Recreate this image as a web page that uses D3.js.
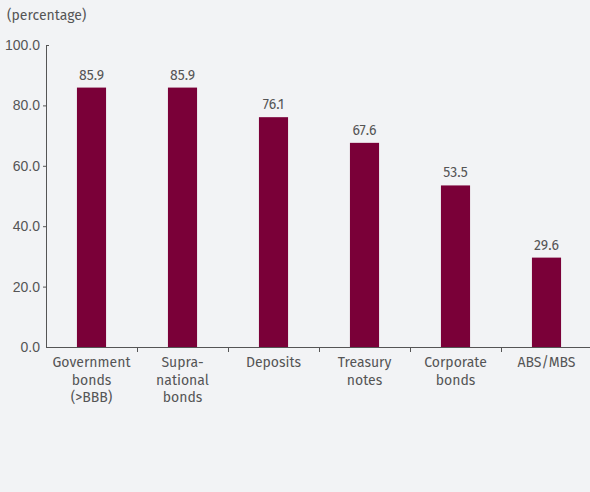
<!DOCTYPE html>
<html>
<head>
<meta charset="utf-8">
<script src="https://cdn.jsdelivr.net/npm/d3@7"></script>
<style>
  body { margin: 0; background: #f2f3f5; }
  svg { display: block; font-family: "Fira Sans", Roboto, "Noto Sans", sans-serif; }
</style>
</head>
<body>
<div id="chart"></div>
<script>
const categories = [
    ["Government", "bonds", "(>BBB)"],
    ["Supra-", "national", "bonds"],
    ["Deposits"],
    ["Treasury", "notes"],
    ["Corporate", "bonds"],
    ["ABS/MBS"]
];
const values = [85.9, 85.9, 76.1, 67.6, 53.5, 29.6];
const yTicks = [0, 20, 40, 60, 80, 100];

const svgWidth = 590;
const svgHeight = 492;
const margin = { top: 45, right: -2, bottom: 145, left: 46 };
const width = svgWidth - margin.left - margin.right;
const height = svgHeight - margin.top - margin.bottom;

const barColor = "#7a0038";
const textColor = "#555555";
const axisColor = "#555555";

const svg = d3.select("#chart")
    .append("svg")
    .attr("width", svgWidth)
    .attr("height", svgHeight);

svg.append("text")
    .attr("x", 7)
    .attr("y", 20)
    .attr("fill", textColor)
    .attr("font-size", "14px")
    .text("(percentage)");

const g = svg.append("g")
    .attr("transform", `translate(${margin.left},${margin.top})`);

const xScale = d3.scaleBand()
    .domain(d3.range(categories.length))
    .range([0, width]);

const yScale = d3.scaleLinear()
    .domain([0, 100])
    .range([height, 0]);

// y axis
const yAxis = g.append("g")
    .call(d3.axisLeft(yScale).tickValues(yTicks).tickFormat(d3.format(".1f")).tickSize(3).tickSizeOuter(0));
yAxis.select(".domain").attr("stroke", axisColor);
yAxis.selectAll(".tick line")
    .attr("stroke", axisColor)
    .attr("x2", d => (d === 100 ? 3 : d === 0 ? 0 : -3));
yAxis.selectAll(".tick text")
    .attr("fill", textColor)
    .attr("font-size", "14px")
    .attr("x", -6);

// bars
const barW = xScale.bandwidth() * 0.32;
g.selectAll(".bar")
    .data(values)
    .enter().append("rect")
    .attr("class", "bar")
    .attr("x", (d, i) => xScale(i) + (xScale.bandwidth() - barW) / 2)
    .attr("y", d => yScale(d))
    .attr("width", barW)
    .attr("height", d => height - yScale(d))
    .attr("fill", barColor);

g.selectAll(".val")
    .data(values)
    .enter().append("text")
    .attr("class", "val")
    .attr("x", (d, i) => xScale(i) + xScale.bandwidth() / 2)
    .attr("y", d => yScale(d) - 8)
    .attr("text-anchor", "middle")
    .attr("fill", textColor)
    .attr("font-size", "14px")
    .text(d => d.toFixed(1));

// x axis baseline
g.append("line")
    .attr("x1", 0).attr("x2", width)
    .attr("y1", height + 0.5).attr("y2", height + 0.5)
    .attr("stroke", axisColor);

// separators between categories
g.selectAll(".sep")
    .data(d3.range(1, categories.length))
    .enter().append("line")
    .attr("class", "sep")
    .attr("x1", i => xScale(i) + 0.5)
    .attr("x2", i => xScale(i) + 0.5)
    .attr("y1", height)
    .attr("y2", height + 5)
    .attr("stroke", axisColor);

// category labels
const labels = g.selectAll(".cat")
    .data(categories)
    .enter().append("text")
    .attr("class", "cat")
    .attr("text-anchor", "middle")
    .attr("fill", textColor)
    .attr("font-size", "14px");

labels.each(function (lines, i) {
    d3.select(this).selectAll("tspan")
        .data(lines)
        .enter().append("tspan")
        .attr("x", xScale(i) + xScale.bandwidth() / 2)
        .attr("y", (l, j) => height + 20 + j * 17.5)
        .text(l => l);
});
</script>
</body>
</html>
